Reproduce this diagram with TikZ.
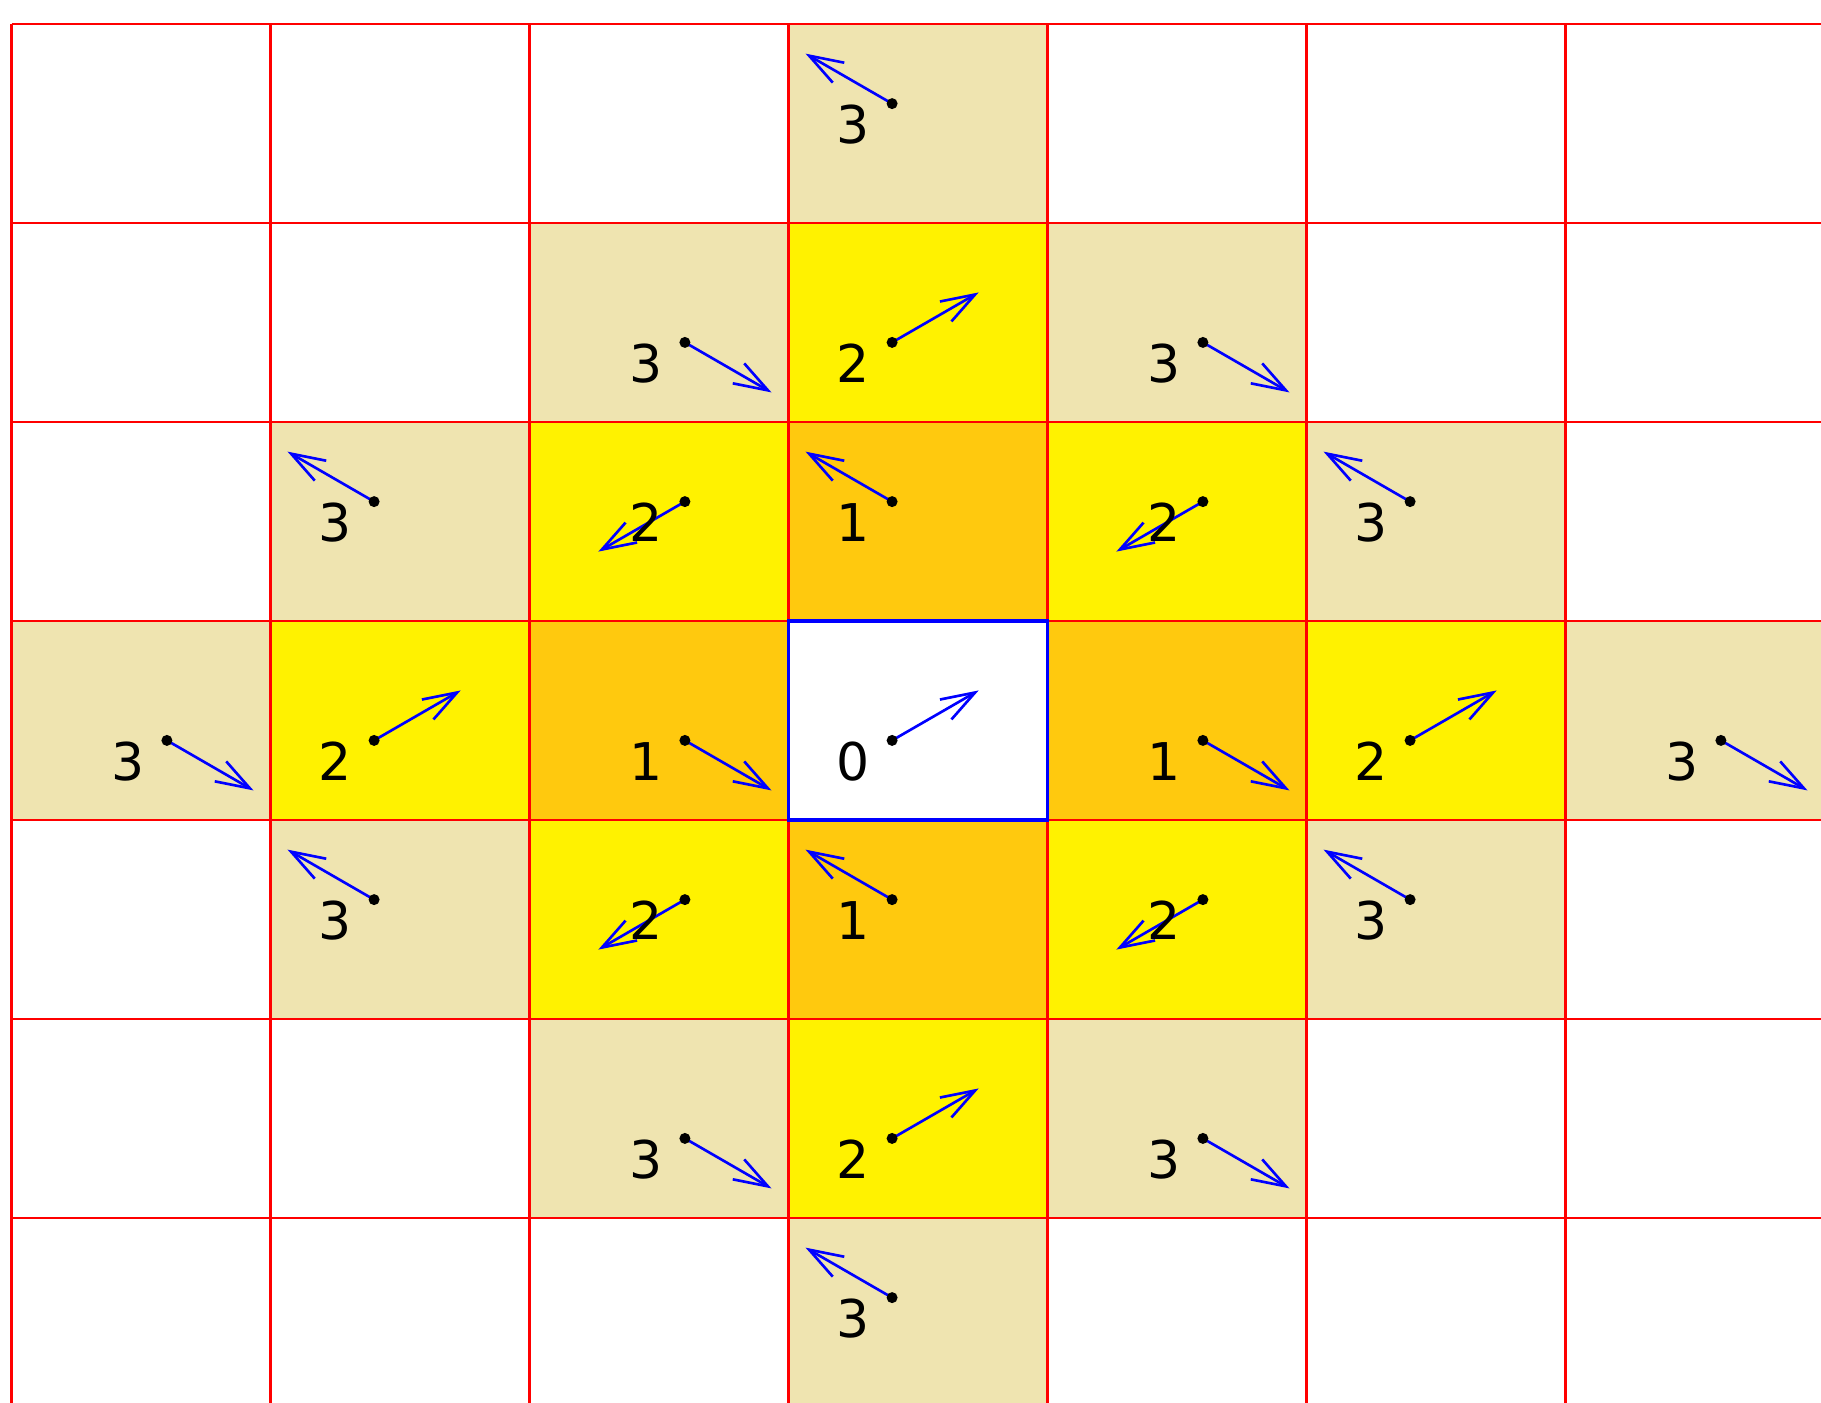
\documentclass[tikz,border=0pt]{standalone}
\usepackage{fontspec}
\setmainfont{DejaVu Sans}
\usetikzlibrary{arrows.meta}

\definecolor{goldcell}{RGB}{255,201,14}
\definecolor{yellowcell}{RGB}{255,242,0}
\definecolor{tancell}{RGB}{239,228,176}

\begin{document}
\begin{tikzpicture}[
  x=2.59cm, y=-1.99cm,
  gridline/.style={red, line width=0.7pt},
  startcell/.style={blue, line width=0.9pt},
  vec/.style={blue, line width=0.75pt, -{Straight Barb[length=3.4mm, width=2.3mm]}},
  distlabel/.style={font=\fontsize{14.8}{18}\selectfont, inner sep=0pt}
]
  \useasboundingbox (-0.115cm,0.24cm) rectangle (18.095cm,-13.78cm);

  % Fills by distance
  \foreach \r in {0,...,6} {
    \foreach \c in {0,...,6} {
      \pgfmathtruncatemacro\d{abs(\r-3)+abs(\c-3)}
      \ifcase\d
      \or \fill[goldcell] (\c,\r) rectangle ++(1,1);
      \or \fill[yellowcell] (\c,\r) rectangle ++(1,1);
      \or \fill[tancell] (\c,\r) rectangle ++(1,1);
      \fi
    }
  }

  % Grid
  \foreach \i in {0,...,6} {
    \draw[gridline] (\i,0) -- (\i,7.2);
    \draw[gridline] (0,\i) -- (7.2,\i);
  }
  \draw[startcell] (3,3) rectangle (4,4);

  % Vectors and labels
  \foreach \r in {0,...,6} {
    \foreach \c in {0,...,6} {
      \pgfmathtruncatemacro\d{abs(\r-3)+abs(\c-3)}
      \ifnum\d<4
        \pgfmathsetmacro\fx{isodd(\c) ? 0.4 : 0.6}
        \pgfmathsetmacro\fy{isodd(\r) ? 0.6 : 0.4}
        \pgfmathsetmacro\ang{isodd(\r) ? (isodd(\c) ? 30 : -30) : (isodd(\c) ? 150 : 210)}
        \coordinate (p\r\c) at (\c+\fx,\r+\fy);
        \path (p\r\c) ++(\ang:1cm) coordinate (t\r\c);
        \draw[vec] (p\r\c) -- (t\r\c);
        \fill (p\r\c) circle[radius=0.055cm];
        \node[distlabel] (n\r\c) at ([shift={(-0.39cm,-0.21cm)}]p\r\c) {\d};
      \fi
    }
  }

\end{tikzpicture}
\end{document}
